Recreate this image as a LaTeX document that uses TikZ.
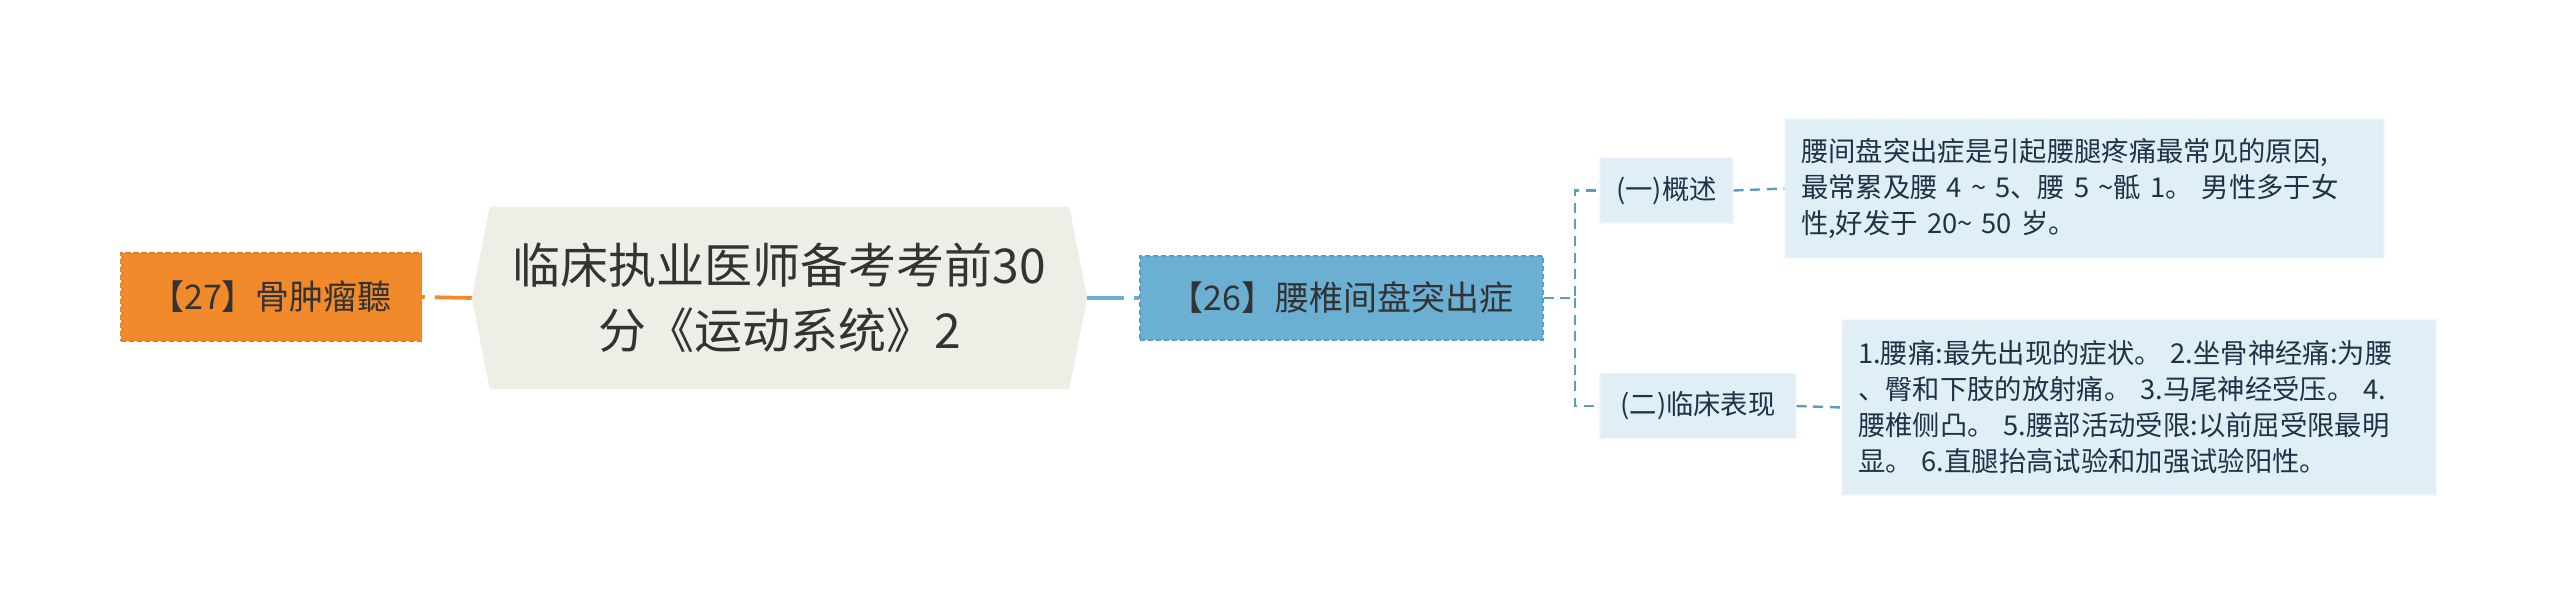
\documentclass[tikz,border=0pt]{standalone}
\usepackage{fontspec}
\newfontfamily\cjk{Noto Sans CJK SC}
\usetikzlibrary{backgrounds,calc}
\definecolor{orfill}{HTML}{F28A2B}
\definecolor{ordraw}{HTML}{E8801F}
\definecolor{rootfill}{HTML}{EEEEE6}
\definecolor{bluefill}{HTML}{6BAFD3}
\definecolor{bluedraw}{HTML}{5B9EC4}
\definecolor{lightfill}{HTML}{E0EEF6}
\definecolor{lightdraw}{HTML}{EEF5FA}
\definecolor{linkblue}{HTML}{5E9CC0}
\definecolor{txt}{HTML}{333333}
\definecolor{txtnavy}{HTML}{1F3346}
\begin{document}
\begin{tikzpicture}[x=0.75pt,y=-0.75pt,
  orbox/.style={fill=orfill,draw=ordraw,dash pattern=on 4pt off 2pt,line width=0.8pt,
    minimum width=225.75pt,minimum height=66pt,inner sep=0pt,text=txt,
    font=\cjk\fontsize{25.5pt}{30pt}\selectfont},
  rootbox/.style={minimum width=434.25pt,minimum height=136.5pt,inner sep=0pt,text=txt,
    align=center,font=\cjk\fontsize{36pt}{48.75pt}\selectfont},
  bluebox/.style={fill=bluefill,draw=bluedraw,dash pattern=on 4pt off 2pt,line width=0.8pt,
    minimum width=302.25pt,minimum height=63pt,inner sep=0pt,text=txt,
    font=\cjk\fontsize{25.5pt}{30pt}\selectfont},
  subbox/.style={fill=lightfill,draw=lightdraw,dash pattern=on 4pt off 2pt,line width=0.8pt,
    minimum height=48.75pt,inner sep=0pt,text=txtnavy,
    font=\cjk\fontsize{20.5pt}{27pt}\selectfont},
  leafbox/.style={fill=lightfill,draw=lightdraw,dash pattern=on 4pt off 2pt,line width=0.8pt,
    inner xsep=12pt,inner ysep=0pt,align=left,text=txtnavy,
    font=\cjk\fontsize{20.5pt}{27pt}\selectfont},
  orlink/.style={draw=orfill,line width=2.8pt,dash pattern=on 27.75pt off 7.5pt},
  bluelink/.style={draw=bluefill,line width=2.8pt,dash pattern=on 27.75pt off 7pt},
  sublink/.style={draw=linkblue,line width=1.8pt,dash pattern=on 7.5pt off 5pt}
]
\useasboundingbox (0,0) rectangle (2560,616);

\node[rootbox] (root) at (779.5,298) {临床执业医师备考考前30\\分《运动系统》2};
\coordinate (rootL) at ($(root.west)+(-13.5pt,0)$);
\coordinate (rootR) at ($(root.east)+(13.5pt,0)$);
\begin{scope}[on background layer]
  \fill[rootfill] (root.north west) -- (root.north east) -- (rootR) -- (root.south east)
    -- (root.south west) -- (rootL) -- cycle;
\end{scope}

\node[orbox] (bone) at (271,297) {【27】骨肿瘤聽};
\node[bluebox] (lumbar) at (1341.5,298) {【26】腰椎间盘突出症};

\node[subbox,minimum width=99.75pt] (over) at (1666.5,190.5) {(一)概述};
\node[subbox,minimum width=147pt] (clin) at (1698,406) {(二)临床表现};

\node[leafbox,text width=425.25pt,minimum height=104.25pt] (t1) at (2084.5,188.5)
  {腰间盘突出症是引起腰腿疼痛最常见的原因,\\最常累及腰 4 \textasciitilde{} 5、腰 5 \textasciitilde 骶 1。 男性多于女\\性,好发于 20\textasciitilde{} 50 岁。};
\node[leafbox,text width=421.5pt,minimum height=131.25pt] (t2) at (2139,407.5)
  {1.腰痛:最先出现的症状。 2.坐骨神经痛:为腰\\、臀和下肢的放射痛。 3.马尾神经受压。 4.\\腰椎侧凸。 5.腰部活动受限:以前屈受限最明\\显。 6.直腿抬高试验和加强试验阳性。};

\draw[orlink] (rootL) -- (bone.east);
\draw[bluelink] (rootR) -- (lumbar.west);
\coordinate (fork) at (1575,298);
\draw[sublink] (lumbar.east) -- (fork) |- (over.west);
\draw[sublink] (fork) |- (clin.west);
\draw[sublink] (over.east) -- (t1.west);
\draw[sublink] (clin.east) -- (t2.west);
\end{tikzpicture}
\end{document}
